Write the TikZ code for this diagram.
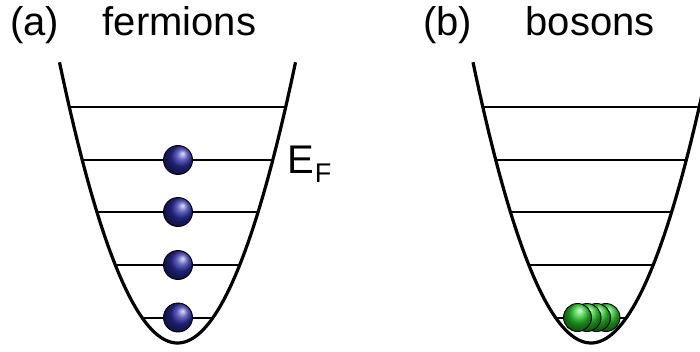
\documentclass[tikz,border=0pt]{standalone}
\usepackage{fontspec}
\setmainfont{Liberation Sans}
\begin{document}
\begin{tikzpicture}[x=1pt,y=1pt,
  well/.style={line width=3.2pt},
  level/.style={line width=2.3pt},
  title/.style={anchor=base west,inner sep=0pt,font=\fontsize{40}{44}\selectfont},
  fermion/.style={circle,draw=black,line width=0.9pt,inner sep=0pt,minimum size=29pt,
    ball color={rgb,255:red,45;green,45;blue,165},shading angle=-80},
  boson/.style={circle,draw=black,line width=0.9pt,inner sep=0pt,minimum size=28pt,
    ball color={rgb,255:red,40;green,200;blue,40},shading angle=-60}]
\useasboundingbox (0,0) rectangle (700,351);
\clip (0,0) rectangle (700,351);
% titles
\node[title] (la) at (10,315) {(a)};
\node[title] (ta) at (102.5,315) {fermions};
\node[title] (lb) at (423,315) {(b)};
\node[title] (tb) at (525.5,315) {bosons};
% level end points (a)
\coordinate (a1l) at (69.3,244);  \coordinate (a1r) at (285.7,244);
\coordinate (a2l) at (82.2,191);  \coordinate (a2r) at (272.8,191);
\coordinate (a3l) at (96.9,139);  \coordinate (a3r) at (258.1,139);
\coordinate (a4l) at (115.3,86);  \coordinate (a4r) at (239.7,86);
\coordinate (a5l) at (142.3,33);  \coordinate (a5r) at (212.7,33);
% level end points (b)
\coordinate (b1l) at (482.8,244); \coordinate (b1r) at (699.2,244);
\coordinate (b2l) at (495.7,191); \coordinate (b2r) at (686.3,191);
\coordinate (b3l) at (510.4,139); \coordinate (b3r) at (671.6,139);
\coordinate (b4l) at (528.8,86);  \coordinate (b4r) at (653.2,86);
\coordinate (b5l) at (555.8,33);  \coordinate (b5r) at (626.2,33);
\foreach \p in {a,b}{
  \foreach \i in {1,...,5}{
    \draw[level] (\p\i l) -- (\p\i r);
  }
}
% wells
\draw[well] plot[domain=-118:118,samples=80] ({177.5+\x},{8+\x*\x/49.6});
\draw[well] plot[domain=-118:125,samples=80] ({591+\x},{8+\x*\x/49.6});
% fermions
\node[fermion] (f1) at (178,33.5) {};
\node[fermion] (f2) at (178,86) {};
\node[fermion] (f3) at (178,139) {};
\node[fermion] (f4) at (178,191) {};
% E_F label
\node[anchor=base west,inner sep=0pt,font=\fontsize{40}{44}\selectfont] (ef) at (287,178)
  {E\hspace{1pt}\raisebox{-9pt}{\fontsize{27}{30}\selectfont F}};
% bosons
\node[boson] (b4) at (606,33.5) {};
\node[boson] (b3) at (596.5,33.5) {};
\node[boson] (b2) at (587,33.5) {};
\node[boson] (b1) at (577.5,33.5) {};
\end{tikzpicture}
\end{document}
